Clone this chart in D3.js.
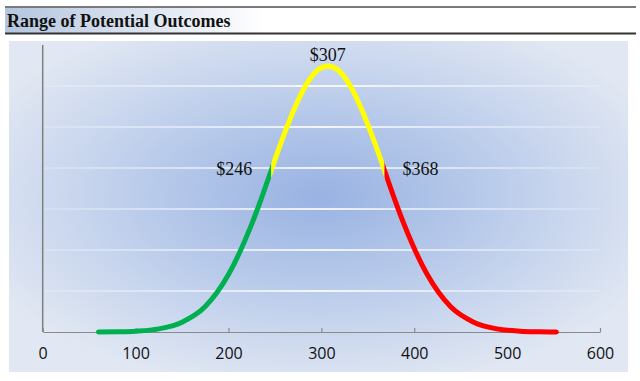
<!DOCTYPE html>
<html>
  <head>
    <meta charset="UTF-8">
    <title>Range of Potential Outcomes</title>
    <style>
      body { margin: 0; background: #fff; }
      svg { display: block; }
    </style>
  </head>
  <body>
    <div id='chart'></div>
    <script src='https://d3js.org/d3.v7.min.js'></script>
    <script>

      const title = 'Range of Potential Outcomes';

      // outcome value (x) and curve height in gridline units (y)
      const outcomes = [60, 80, 100, 125, 150, 175, 200, 225, 235, 246, 256, 265, 285, 296, 307,
                        318, 329, 349, 358, 368, 379, 389, 414, 439, 464, 489, 514, 534, 553];
      const heights = [0.0, 0.006, 0.02, 0.076, 0.24, 0.62, 1.40, 2.63, 3.23, 3.94, 4.58, 5.12, 6.08, 6.39, 6.49,
                       6.39, 6.08, 5.12, 4.58, 3.94, 3.23, 2.63, 1.40, 0.62, 0.24, 0.076, 0.02, 0.006, 0.0];

      const bands = [
        { from: 0, to: 246, color: '#00b050' },
        { from: 246, to: 368, color: '#ffff00' },
        { from: 368, to: 600, color: '#ff0000' }
      ];
      const callouts = [
        { value: 246, height: 3.94, label: '$246', anchor: 'end', dx: -19, dy: 5 },
        { value: 307, height: 6.49, label: '$307', anchor: 'middle', dx: 0, dy: -5 },
        { value: 368, height: 3.94, label: '$368', anchor: 'start', dx: 18, dy: 5 }
      ];
      const xTicks = [0, 100, 200, 300, 400, 500, 600];
      const gridLevels = [1, 2, 3, 4, 5, 6];

      const width = 640;
      const height = 381;

      const svg = d3.select('#chart')
        .append('svg')
        .attr('width', width)
        .attr('height', height);

      const defs = svg.append('defs');

      const titleGrad = defs.append('linearGradient')
        .attr('id', 'titleGrad')
        .attr('x1', '0').attr('x2', '1').attr('y1', '0').attr('y2', '0');
      titleGrad.append('stop').attr('offset', '0').attr('stop-color', '#b3c5df');
      titleGrad.append('stop').attr('offset', '1').attr('stop-color', '#ffffff');

      const bgGrad = defs.append('radialGradient')
        .attr('id', 'bgGrad')
        .attr('cx', '0.5').attr('cy', '0.47').attr('r', '0.6');
      bgGrad.append('stop').attr('offset', '0').attr('stop-color', '#98b2e2');
      bgGrad.append('stop').attr('offset', '0.5').attr('stop-color', '#bccdeb');
      bgGrad.append('stop').attr('offset', '1').attr('stop-color', '#e2e8f3');

      const gridGrad = defs.append('linearGradient')
        .attr('id', 'gridGrad')
        .attr('gradientUnits', 'userSpaceOnUse')
        .attr('x1', 42).attr('x2', 600).attr('y1', 0).attr('y2', 0);
      gridGrad.append('stop').attr('offset', '0').attr('stop-color', '#fff').attr('stop-opacity', 0.15);
      gridGrad.append('stop').attr('offset', '0.5').attr('stop-color', '#fff').attr('stop-opacity', 0.85);
      gridGrad.append('stop').attr('offset', '1').attr('stop-color', '#fff').attr('stop-opacity', 0.15);

      // title bar
      svg.append('rect')
        .attr('x', 5).attr('y', 8)
        .attr('width', 260).attr('height', 25)
        .attr('fill', 'url(#titleGrad)');
      svg.append('line')
        .attr('x1', 5).attr('x2', 636).attr('y1', 7).attr('y2', 7)
        .attr('stroke', '#7a7a7a').attr('stroke-width', 2);
      svg.append('line')
        .attr('x1', 5).attr('x2', 636).attr('y1', 33.5).attr('y2', 33.5)
        .attr('stroke', '#333').attr('stroke-width', 2);
      svg.append('text')
        .attr('x', 7).attr('y', 27)
        .attr('font-family', '"Liberation Serif", "Times New Roman", serif')
        .attr('font-weight', 'bold')
        .attr('font-size', 18)
        .attr('fill', '#111')
        .text(title);

      // plot panel
      svg.append('rect')
        .attr('x', 9).attr('y', 41)
        .attr('width', 619).attr('height', 331)
        .attr('fill', 'url(#bgGrad)');

      const x = d3.scaleLinear()
        .domain([0, 600])
        .range([42.7, 600]);

      const y = d3.scaleLinear()
        .domain([0, 7])
        .range([332, 45]);

      svg.append('g')
        .selectAll('line')
        .data(gridLevels)
        .enter().append('line')
        .attr('x1', x(0) + 2).attr('x2', x(600))
        .attr('y1', (d) => y(d)).attr('y2', (d) => y(d))
        .attr('stroke', 'url(#gridGrad)')
        .attr('stroke-width', 2);

      // y axis line
      svg.append('line')
        .attr('x1', x(0)).attr('x2', x(0))
        .attr('y1', y(7)).attr('y2', y(0))
        .attr('stroke', '#7f7f7f').attr('stroke-width', 1.5);

      const xAxis = svg.append('g')
        .attr('transform', `translate(0,${y(0)})`)
        .call(d3.axisBottom(x)
          .tickValues(xTicks)
          .tickSizeInner(-4)
          .tickSizeOuter(0)
          .tickPadding(16));
      xAxis.select('.domain').attr('stroke', '#8a8a8a').attr('stroke-width', 1.2);
      xAxis.selectAll('.tick line').attr('stroke', '#8a8a8a').attr('stroke-width', 1.2);
      xAxis.selectAll('.tick text')
        .attr('font-family', '"Open Sans", sans-serif')
        .attr('font-size', 16)
        .attr('fill', '#111');

      const points = outcomes.map((v, i) => [v, heights[i]]);
      const line = d3.line()
        .x((d) => x(d[0]))
        .y((d) => y(d[1]))
        .curve(d3.curveMonotoneX);

      bands.forEach((b, i) => {
        defs.append('clipPath')
          .attr('id', `band${i}`)
          .append('rect')
          .attr('x', x(b.from)).attr('y', 0)
          .attr('width', x(b.to) - x(b.from)).attr('height', height);
        svg.append('path')
          .datum(points)
          .attr('clip-path', `url(#band${i})`)
          .attr('fill', 'none')
          .attr('stroke', b.color)
          .attr('stroke-width', 5)
          .attr('stroke-linecap', 'round')
          .attr('d', line);
      });

      svg.append('g')
        .selectAll('text')
        .data(callouts)
        .enter().append('text')
        .attr('x', (d) => x(d.value) + d.dx)
        .attr('y', (d) => y(d.height) + d.dy)
        .attr('text-anchor', (d) => d.anchor)
        .attr('font-family', '"Liberation Serif", "Times New Roman", serif')
        .attr('font-size', 18)
        .attr('fill', '#111')
        .text((d) => d.label);

    </script>
  </body>
</html>
